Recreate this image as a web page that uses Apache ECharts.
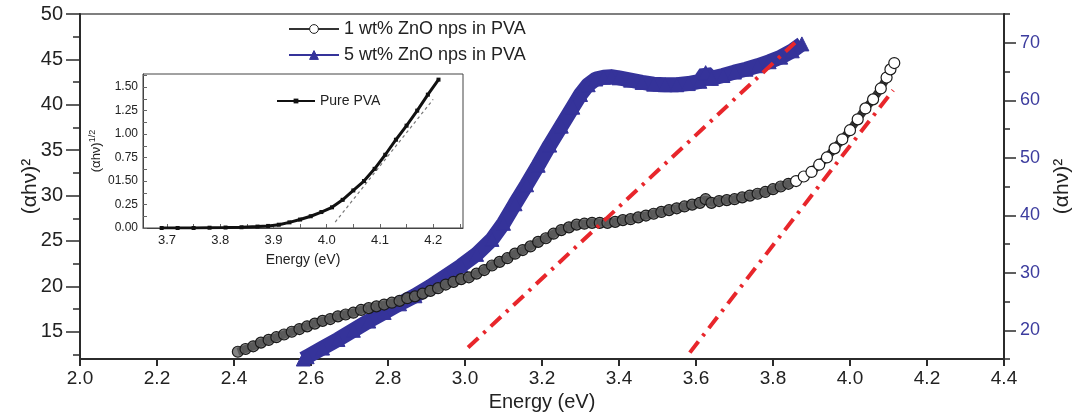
<!DOCTYPE html>
<html>
<head>
<meta charset="utf-8">
<script src="https://cdn.jsdelivr.net/npm/echarts@6/dist/echarts.min.js"></script>
<style>
  html, body { margin: 0; padding: 0; background: #fff; }
  #main { width: 1078px; height: 414px; }
</style>
</head>
<body>
<div id="main"></div>
<script>
  // 1 wt% ZnO (left axis)
  var blackX = [2.41,2.43,2.45,2.47,2.49,2.51,2.53,2.55,2.57,2.59,2.61,2.63,2.65,2.67,2.69,2.71,2.73,2.75,2.77,2.79,
    2.81,2.83,2.85,2.87,2.89,2.91,2.93,2.95,2.97,2.99,3.01,3.03,3.05,3.07,3.09,3.11,3.13,3.15,3.17,3.19,
    3.21,3.23,3.25,3.27,3.29,3.31,3.33,3.35,3.37,3.39,3.41,3.43,3.45,3.47,3.49,3.51,3.53,3.55,3.57,3.59,
    3.61,3.625,3.64,3.66,3.68,3.70,3.72,3.74,3.76,3.78,3.80,3.82,3.84,3.86,3.88,3.90,3.92,3.94,3.96,3.98,
    4.00,4.02,4.04,4.06,4.08,4.095,4.105,4.115];
  var blackY = [12.8,13.1,13.4,13.8,14.1,14.4,14.7,15.0,15.3,15.6,15.9,16.2,16.4,16.7,16.9,17.1,17.4,17.6,17.8,18.0,
    18.2,18.4,18.7,18.9,19.2,19.5,19.8,20.2,20.5,20.8,21.0,21.4,21.8,22.3,22.7,23.1,23.6,24.0,24.4,24.9,
    25.3,25.8,26.2,26.5,26.8,26.9,27.0,27.0,27.0,27.1,27.3,27.4,27.6,27.8,28.0,28.2,28.4,28.6,28.8,29.0,
    29.2,29.6,29.2,29.4,29.5,29.6,29.8,30.0,30.2,30.4,30.7,31.0,31.3,31.6,32.1,32.6,33.4,34.2,35.2,36.2,
    37.2,38.4,39.6,40.6,41.8,43.0,43.9,44.6];
  // 5 wt% ZnO (right axis)
  var blueX = [2.58,2.59,2.63,2.67,2.71,2.75,2.79,2.83,2.87,2.91,2.95,2.99,3.03,3.07,3.10,3.13,3.16,3.19,3.22,3.25,
    3.28,3.30,3.32,3.34,3.36,3.38,3.40,3.43,3.46,3.49,3.52,3.55,3.58,3.61,3.625,3.64,3.67,3.70,3.73,3.76,
    3.79,3.82,3.85,3.875];
  var blueY = [15.0,15.4,16.9,18.4,20.0,21.6,23.1,24.6,26.0,27.6,29.4,31.2,33.2,35.8,38.6,42.0,45.3,48.7,52.2,55.5,
    58.8,61.0,62.7,63.7,64.0,64.1,63.9,63.5,63.1,62.8,62.7,62.7,62.9,63.3,64.8,63.8,64.3,64.9,65.4,66.0,
    66.7,67.5,68.6,69.8];
  // linear fits (dash-dot)
  var fitBlue = [[3.008, 17.0], [3.857, 70.0]];
  var fitBlack = [[3.584, 12.7], [4.112, 41.6]];
  // inset: pure PVA
  var pvaX = [3.69,3.72,3.75,3.78,3.81,3.84,3.87,3.89,3.91,3.93,3.95,3.97,3.99,4.01,4.03,4.05,4.07,4.09,4.11,4.13,
    4.15,4.17,4.19,4.21];
  var pvaY = [0.0,0.0,0.0,0.003,0.005,0.008,0.015,0.022,0.035,0.06,0.09,0.125,0.17,0.22,0.30,0.40,0.50,0.63,0.78,0.94,
    1.09,1.25,1.42,1.58];
  var fitPva = [[4.016, 0.063], [4.2, 1.37]];

  var leftTicks = [15, 20, 25, 30, 35, 40, 45, 50];
  var leftMinor = [12.5, 17.5, 22.5, 27.5, 32.5, 37.5, 42.5, 47.5];
  var rightTicks = [20, 30, 40, 50, 60, 70];
  var rightMinor = [15, 25, 35, 45, 55, 65, 75];
  var insetXTicks = [3.7, 3.8, 3.9, 4.0, 4.1, 4.2];
  var insetXMinor = [3.7, 3.75, 3.8, 3.85, 3.9, 3.95, 4.0, 4.05, 4.1, 4.15, 4.2, 4.25];
  var insetYTicks = [0, 0.25, 0.5, 0.75, 1.0, 1.25, 1.5];
  var insetYMinor = [0, 0.125, 0.25, 0.375, 0.5, 0.625, 0.75, 0.875, 1.0, 1.125, 1.25, 1.375, 1.5, 1.625];

  function zip(xs, ys) {
    return xs.map(function (x, i) { return [x, ys[i]]; });
  }
  // dense part of the 1 wt% band looks dark, the sparse top end shows open circles
  var blackData = blackX.map(function (x, i) {
    return {
      value: [x, blackY[i]],
      itemStyle: { color: x < 3.86 ? 'rgba(100,100,100,0.8)' : '#fff' }
    };
  });

  var myChart = echarts.init(document.getElementById('main'));
  var AX = '#2b2b2b';
  var BLUE = '#35339a';
  var RED = '#e8262b';

  var option = {
    backgroundColor: '#fff',
    animation: false,
    textStyle: { fontFamily: 'Liberation Sans, Arial, sans-serif' },
    legend: [{
      orient: 'vertical',
      left: 283, top: 15,
      itemWidth: 50, itemHeight: 11, itemGap: 8,
      textStyle: { fontSize: 18, color: '#222' },
      lineStyle: { width: 2 },
      itemStyle: { borderWidth: 1 },
      data: [
        { name: '1 wt% ZnO nps in PVA', itemStyle: { color: '#fff', borderColor: '#222' } },
        { name: '5 wt% ZnO nps in PVA' }
      ]
    }, {
      left: 271, top: 89,
      itemWidth: 38, itemHeight: 6, itemGap: 4,
      textStyle: { fontSize: 14, color: '#222' },
      data: ['Pure PVA']
    }],
    grid: [
      { left: 80, right: 74, top: 14, bottom: 55, outerBoundsMode: 'none',
        show: true, borderColor: '#555', borderWidth: 1.5 },
      { left: 143, top: 74, width: 320, height: 154, outerBoundsMode: 'none',
        show: true, borderColor: '#444', borderWidth: 1, backgroundColor: '#fff' }
    ],
    xAxis: [{
      gridIndex: 0, type: 'value', min: 2.0, max: 4.4, interval: 0.2,
      name: 'Energy (eV)', nameLocation: 'middle', nameGap: 32,
      nameTextStyle: { fontSize: 20, color: '#222', fontFamily: 'Liberation Sans Narrow, Liberation Sans' },
      axisLine: { lineStyle: { color: AX, width: 2 } },
      axisTick: { inside: false, length: 7, lineStyle: { color: AX, width: 2 } },
      axisLabel: { fontSize: 19, color: '#222', margin: 10, fontFamily: 'Liberation Sans Narrow, Liberation Sans',
        formatter: function (v) { return v.toFixed(1); } },
      splitLine: { show: false }
    }, {
      gridIndex: 1, type: 'value', min: 3.655, max: 4.256,
      name: 'Energy (eV)', nameLocation: 'middle', nameGap: 25,
      nameTextStyle: { fontSize: 14, color: '#222' },
      axisLine: { lineStyle: { color: '#444', width: 1 } },
      axisTick: { inside: true, length: 4, customValues: insetXMinor, lineStyle: { color: '#666' } },
      axisLabel: { fontSize: 13, color: '#222', margin: 6, customValues: insetXTicks,
        fontFamily: 'Liberation Sans Narrow, Liberation Sans',
        formatter: function (v) { return v.toFixed(1); } },
      splitLine: { show: false }
    }],
    yAxis: [{
      gridIndex: 0, type: 'value', position: 'left', min: 12, max: 50,
      name: '(αhν)²', nameLocation: 'middle', nameGap: 39, nameRotate: 90, nameMoveOverlap: false,
      nameTextStyle: { fontSize: 21, color: '#222' },
      axisLine: { show: true, lineStyle: { color: AX, width: 2 } },
      axisTick: { length: 14, customValues: leftTicks, lineStyle: { color: AX, width: 1.5 } },
      axisLabel: { fontSize: 20, color: '#222', margin: 17, customValues: leftTicks },
      splitLine: { show: false }
    }, {
      gridIndex: 0, type: 'value', position: 'right', min: 15, max: 75,
      name: '(αhν)²', nameLocation: 'middle', nameGap: 48, nameRotate: 90,
      nameTextStyle: { fontSize: 21, color: '#222' },
      axisLine: { show: true, lineStyle: { color: AX, width: 2 } },
      axisTick: { length: 12, customValues: rightTicks, lineStyle: { color: AX, width: 1.5 } },
      axisLabel: { fontSize: 18, color: '#3c3c9e', margin: 16, customValues: rightTicks },
      splitLine: { show: false }
    }, {
      gridIndex: 0, type: 'value', position: 'left', min: 12, max: 50,
      axisLine: { show: false },
      axisTick: { length: 7, customValues: leftMinor, lineStyle: { color: AX, width: 1.5 } },
      axisLabel: { show: false },
      splitLine: { show: false }
    }, {
      gridIndex: 0, type: 'value', position: 'right', min: 15, max: 75,
      axisLine: { show: false },
      axisTick: { length: 6, customValues: rightMinor, lineStyle: { color: AX, width: 1.5 } },
      axisLabel: { show: false },
      splitLine: { show: false }
    }, {
      gridIndex: 1, type: 'value', min: 0, max: 1.64,
      name: '(αhν){s|1/2}', nameLocation: 'middle', nameGap: 32, nameRotate: 90,
      nameTextStyle: { fontSize: 13, color: '#222', lineHeight: 16,
        rich: { s: { fontSize: 9, verticalAlign: 'top', lineHeight: 16 } } },
      axisLine: { show: true, lineStyle: { color: '#444', width: 1 } },
      axisTick: { inside: true, length: 4, customValues: insetYMinor, lineStyle: { color: '#666' } },
      axisLabel: { fontSize: 12, color: '#222', margin: 5, customValues: insetYTicks,
        fontFamily: 'Liberation Sans Narrow, Liberation Sans',
        formatter: function (v) { return Math.abs(v - 0.5) < 1e-6 ? '01.50' : v.toFixed(2); } },
      splitLine: { show: false }
    }],
    series: [{
      name: '1 wt% ZnO nps in PVA', type: 'line', xAxisIndex: 0, yAxisIndex: 0,
      data: blackData,
      symbol: 'circle', symbolSize: 11,
      itemStyle: { color: '#fff', borderColor: '#1a1a1a', borderWidth: 1.2 },
      lineStyle: { color: '#333', width: 8 },
      z: 3
    }, {
      name: '5 wt% ZnO nps in PVA', type: 'line', xAxisIndex: 0, yAxisIndex: 1,
      data: zip(blueX, blueY),
      symbol: 'triangle', symbolSize: 14,
      itemStyle: { color: BLUE, borderColor: BLUE },
      lineStyle: { color: BLUE, width: 15 },
      z: 2
    }, {
      name: 'fit5', type: 'line', xAxisIndex: 0, yAxisIndex: 1,
      data: fitBlue, symbol: 'none',
      lineStyle: { color: RED, width: 4, type: [14, 7, 3, 7] },
      z: 4
    }, {
      name: 'fit1', type: 'line', xAxisIndex: 0, yAxisIndex: 0,
      data: fitBlack, symbol: 'none',
      lineStyle: { color: RED, width: 4, type: [14, 7, 3, 7] },
      z: 4
    }, {
      name: 'Pure PVA', type: 'line', xAxisIndex: 1, yAxisIndex: 4,
      data: zip(pvaX, pvaY),
      symbol: 'rect', symbolSize: 4,
      itemStyle: { color: '#111' },
      lineStyle: { color: '#111', width: 3 },
      z: 6
    }, {
      name: 'pvaFit', type: 'line', xAxisIndex: 1, yAxisIndex: 4,
      data: fitPva, symbol: 'none',
      lineStyle: { color: '#777', width: 1.2, type: [3, 3] },
      z: 5
    }]
  };
  myChart.setOption(option);
</script>
</body>
</html>
